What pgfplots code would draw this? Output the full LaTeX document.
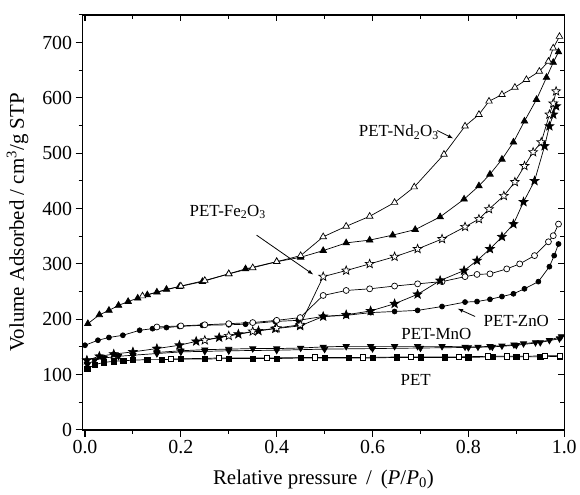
\documentclass[border=0pt]{standalone}
\usepackage{fontspec}
\setmainfont{Liberation Serif}
\usepackage{pgfplots}
\pgfplotsset{compat=1.18}
\usetikzlibrary{calc,plotmarks}

% five-pointed star mark, filled with the current fill colour
\pgfdeclareplotmark{pstar}{%
  \pgfpathmoveto{\pgfpointpolar{90}{\pgfplotmarksize}}%
  \pgfpathlineto{\pgfpointpolar{126}{0.42\pgfplotmarksize}}%
  \pgfpathlineto{\pgfpointpolar{162}{\pgfplotmarksize}}%
  \pgfpathlineto{\pgfpointpolar{198}{0.42\pgfplotmarksize}}%
  \pgfpathlineto{\pgfpointpolar{234}{\pgfplotmarksize}}%
  \pgfpathlineto{\pgfpointpolar{270}{0.42\pgfplotmarksize}}%
  \pgfpathlineto{\pgfpointpolar{306}{\pgfplotmarksize}}%
  \pgfpathlineto{\pgfpointpolar{342}{0.42\pgfplotmarksize}}%
  \pgfpathlineto{\pgfpointpolar{18}{\pgfplotmarksize}}%
  \pgfpathlineto{\pgfpointpolar{54}{0.42\pgfplotmarksize}}%
  \pgfpathclose
  \pgfusepathqfillstroke
}

\pgfplotsset{
  frame/.style={width=484pt, height=417pt, scale only axis,
    xmin=-0.005, xmax=1.0, ymin=0, ymax=750,
    axis line style={line width=1.5pt}},
  ser/.style={black, line width=0.7pt},
  fil/.style={ser, mark options={solid, fill=black}},
  opn/.style={ser, mark options={solid, fill=white}},
}

\begin{document}
\begin{tikzpicture}
\begin{axis}[frame,
  tick align=outside, xtick pos=left, ytick pos=left,
  xtick={0,0.2,...,1.0}, minor xtick={0.1,0.3,...,0.9},
  ytick={0,100,...,700}, minor ytick={50,150,...,750},
  major tick length=7pt, minor tick length=4pt,
  every tick/.style={black, line width=1.1pt},
  xticklabel style={/pgf/number format/.cd, fixed, fixed zerofill, precision=1},
  /pgf/number format/assume math mode=true,
  tick label style={font=\fontsize{20}{22}\selectfont},
  label style={font=\fontsize{21}{24}\selectfont},
  xlabel={Relative pressure \,/\, (\textit{P}/\textit{P}\textsubscript{0})},
  ylabel={Volume Adsorbed / cm\textsuperscript{3}/g STP},
  xlabel style={at={(axis description cs:0.5,-0.12)}, anchor=center},
  ylabel style={at={(axis description cs:-0.135,0.5)}, anchor=center},
  clip=false,
]
% PET
\addplot[fil, mark=square*, mark size=2.6pt] coordinates {
(0.005,110)(0.02,118)(0.04,122)(0.06,124)(0.08,125)(0.1,126)(0.13,127)(0.16,127)
(0.2,128)(0.25,128)(0.3,129)(0.35,129)(0.4,129)(0.45,130)(0.5,130)(0.55,130)
(0.6,130)(0.65,131)(0.7,131)(0.75,131)(0.8,131)(0.85,132)(0.9,132)(0.95,132)(0.99,133)};
\addplot[opn, mark=square*, mark size=2.6pt] coordinates {
(0.18,128)(0.28,130)(0.38,130)(0.48,131)(0.58,131)(0.68,132)(0.78,132)
(0.84,133)(0.88,133)(0.92,133)(0.96,134)(0.99,134)};
% PET-MnO
\addplot[fil, mark=triangle*, mark size=3.6pt, mark options={rotate=180}] coordinates {
(0.005,118)(0.02,126)(0.04,130)(0.07,133)(0.1,135)(0.15,138)(0.2,141)(0.25,142)
(0.3,143)(0.4,144)(0.5,146)(0.6,147)(0.7,148)(0.8,149)(0.85,150)(0.9,153)(0.95,158)(0.99,165)};
\addplot[opn, mark=triangle*, mark size=3.6pt, mark options={rotate=180}] coordinates {
(0.15,140)(0.2,143)(0.25,145)(0.3,146)(0.35,147)(0.4,147)(0.45,148)(0.497,150)
(0.545,151)(0.596,151)(0.646,151)(0.694,151)(0.745,151)(0.793,150)(0.82,150)
(0.845,151)(0.87,152)(0.895,154)(0.915,156)(0.94,158)(0.969,162)(0.994,169)};
% PET-ZnO
\addplot[fil, mark=*, mark size=2.5pt] coordinates {
(0.0,153)(0.027,162)(0.05,167)(0.079,171)(0.114,180)(0.141,183)(0.17,185)(0.197,187)
(0.245,189)(0.30,190)(0.335,191)(0.397,196)(0.445,198)(0.497,205)(0.545,207)(0.596,212)
(0.646,214)(0.694,216)(0.745,223)(0.793,231)(0.818,232)(0.845,236)(0.870,241)(0.894,246)
(0.917,255)(0.946,268)(0.969,295)(0.979,315)(0.988,336)};
\addplot[opn, mark=*, mark size=3pt] coordinates {
(0.15,186)(0.2,188)(0.25,190)(0.30,192)(0.35,194)(0.40,198)(0.449,203)(0.497,243)
(0.545,252)(0.594,255)(0.646,260)(0.694,264)(0.745,268)(0.793,277)(0.818,281)
(0.845,282)(0.880,291)(0.907,300)(0.938,315)(0.967,340)(0.977,351)(0.988,372)};
% PET-Fe2O3
\addplot[fil, mark=pstar, mark size=4.6pt] coordinates {
(0.004,126)(0.03,133)(0.06,137)(0.1,141)(0.15,147)(0.197,153)(0.232,160)(0.28,167)
(0.32,173)(0.362,179)(0.397,183)(0.449,188)(0.497,205)(0.545,208)(0.596,215)(0.646,228)
(0.694,245)(0.741,270)(0.791,288)(0.818,306)(0.845,327)(0.870,349)(0.894,372)
(0.915,412)(0.938,450)(0.959,513)(0.969,549)(0.977,570)(0.983,585)};
\addplot[opn, mark=pstar, mark size=4.6pt] coordinates {
(0.25,162)(0.30,170)(0.35,178)(0.40,184)(0.449,190)(0.497,277)(0.545,288)(0.594,300)
(0.646,313)(0.694,327)(0.745,345)(0.793,367)(0.822,381)(0.843,399)(0.874,423)
(0.897,448)(0.917,477)(0.935,502)(0.952,520)(0.969,570)(0.977,590)(0.983,612)};
% PET-Nd2O3
\addplot[fil, mark=triangle*, mark size=3.8pt] coordinates {
(0.006,192)(0.03,208)(0.05,216)(0.07,225)(0.09,232)(0.11,238)(0.13,244)(0.15,249)
(0.17,254)(0.197,259)(0.245,268)(0.30,282)(0.335,291)(0.40,304)(0.45,312)(0.497,324)
(0.545,338)(0.594,343)(0.642,352)(0.689,362)(0.741,385)(0.791,417)(0.822,441)
(0.845,462)(0.870,489)(0.894,520)(0.917,558)(0.942,597)(0.963,637)(0.977,664)(0.988,683)};
\addplot[opn, mark=triangle*, mark size=3.8pt] coordinates {
(0.12,242)(0.20,260)(0.25,270)(0.30,282)(0.35,293)(0.40,304)(0.45,315)(0.497,349)
(0.545,368)(0.594,386)(0.646,411)(0.687,439)(0.749,498)(0.793,549)(0.822,570)
(0.843,594)(0.870,606)(0.897,619)(0.921,633)(0.948,648)(0.967,666)(0.977,690)(0.99,711)};
% labels
\node[font=\fontsize{17}{19}\selectfont] at (axis cs:0.655,538) {PET-Nd\textsubscript{2}O\textsubscript{3}};
\draw[-latex, line width=0.8pt] (axis cs:0.735,541) -- (axis cs:0.768,527);
\node[font=\fontsize{17}{19}\selectfont] at (axis cs:0.298,394) {PET-Fe\textsubscript{2}O\textsubscript{3}};
\draw[-latex, line width=0.8pt] (axis cs:0.358,352) -- (axis cs:0.476,281);
\node[font=\fontsize{17}{19}\selectfont] at (axis cs:0.9,196) {PET-ZnO};
\draw[-latex, line width=0.8pt] (axis cs:0.814,205) -- (axis cs:0.778,219);
\node[font=\fontsize{17}{19}\selectfont] at (axis cs:0.733,173) {PET-MnO};
\node[font=\fontsize{17}{19}\selectfont] at (axis cs:0.69,90) {PET};
\end{axis}
\begin{axis}[frame, tick align=inside, xtick pos=right, ytick pos=right,
  xtick={0,0.2,...,1.0}, minor xtick={0.1,0.3,...,0.9},
  ytick={0,100,...,700}, minor ytick={50,150,...,750},
  major tick length=6pt, minor tick length=4pt,
  every tick/.style={black, line width=1.1pt},
  xticklabels={}, yticklabels={}]
\end{axis}
\useasboundingbox ($(current axis.south west)+(-83pt,-65pt)$) rectangle ($(current axis.north east)+(13pt,15pt)$);
\end{tikzpicture}
\end{document}
